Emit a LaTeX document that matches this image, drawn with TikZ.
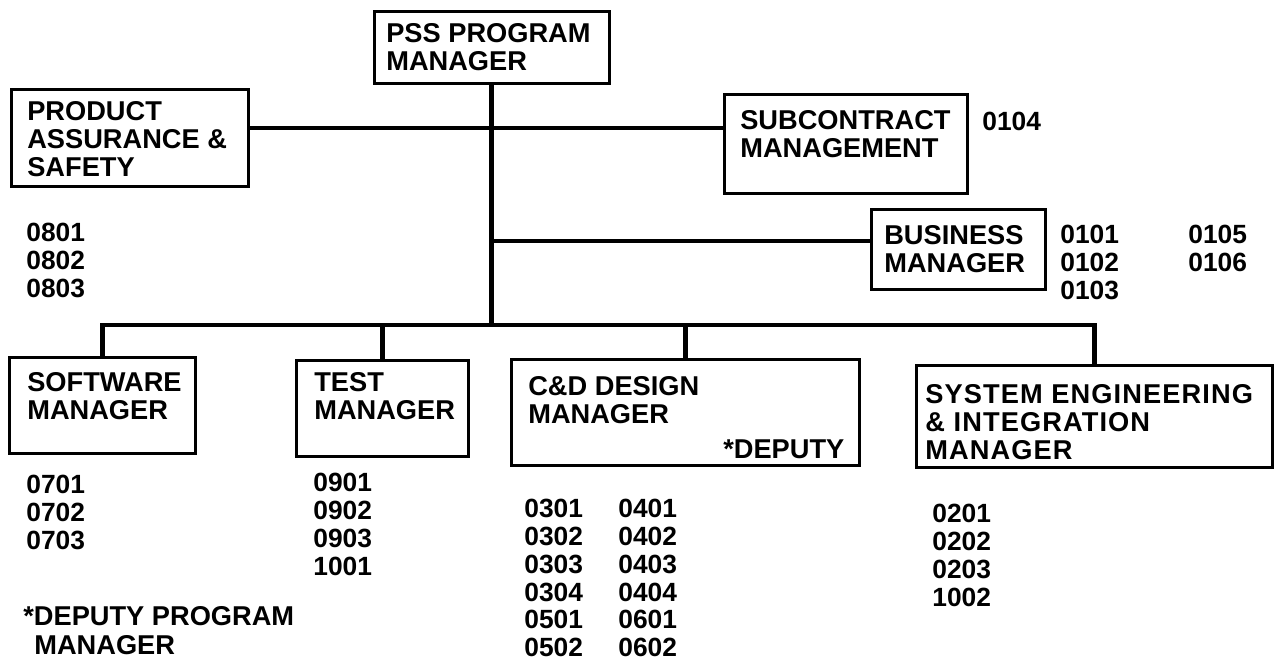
\documentclass[tikz,border=0pt]{standalone}
\usepackage{fontspec}
\setmainfont{Liberation Sans}
\usetikzlibrary{positioning}
\newlength\unitpx
\setlength\unitpx{0.02cm}
\newcommand\orgbox[5]{\parbox[c][#2\unitpx][t]{#1\unitpx}{\vspace*{#4\unitpx}\leftskip=#3\unitpx\rightskip=5\unitpx plus 1fil\relax #5}}

\begin{document}
\begin{tikzpicture}[x=0.02cm, y=-0.02cm, every node/.style={font=\fontsize{15.5}{16}\selectfont\bfseries}, mgr/.style={draw, line width=1.5pt, inner sep=0pt, anchor=north west}, codes/.style={inner sep=0pt, anchor=north west, align=left, font=\fontsize{15}{15.8}\selectfont\bfseries}, link/.style={line width=2.8pt}]
\useasboundingbox (0,0) rectangle (1274,663);
\node[mgr] (pss) at (373,10) {\orgbox{235}{72}{12}{12}{PSS PROGRAM\\MANAGER}};
\node[mgr] (pa) at (10,88) {\orgbox{237}{97}{16}{12}{PRODUCT\\ASSURANCE \&\\SAFETY}};
\node[mgr] (sub) at (723,93) {\orgbox{243}{99}{16}{16}{SUBCONTRACT\\MANAGEMENT}};
\node[mgr] (bm) at (870,208) {\orgbox{174}{80}{13}{16}{BUSINESS\\MANAGER}};
\node[mgr] (sw) at (8,356) {\orgbox{186}{96}{18}{15}{SOFTWARE\\MANAGER}};
\node[mgr] (tm) at (295,359) {\orgbox{172}{96}{18}{12}{TEST\\MANAGER}};
\node[mgr] (cd) at (510,358) {\orgbox{348}{106}{17}{17}{C\&D DESIGN\\MANAGER\\[7\unitpx]\hspace*{\fill}*DEPUTY\hspace*{10\unitpx}}};
\node[mgr] (se) at (915,364) {\orgbox{356}{102}{9}{19}{\addfontfeature{LetterSpace=4}SYSTEM ENGINEERING\\\& INTEGRATION\\MANAGER}};
\node[codes] (pacodes) at (26,223) {0801\\0802\\0803};
\node[codes] (subcode) at (982,112) {0104};
\node[codes] (bmcodes) at (1060,225) {0101\\0102\\0103};
\node[codes] (bmcodesb) at (1188,225) {0105\\0106};
\node[codes] (swcodes) at (26,475) {0701\\0702\\0703};
\node[codes] (tmcodes) at (313,473) {0901\\0902\\0903\\1001};
\node[codes] (cdcodes) at (524,499) {0301\\0302\\0303\\0304\\0501\\0502};
\node[codes] (cdcodesb) at (618,499) {0401\\0402\\0403\\0404\\0601\\0602};
\node[codes] (secodes) at (932,504) {0201\\0202\\0203\\1002};
\node[codes, font=\fontsize{15.5}{16.5}\selectfont\bfseries] (note) at (23,606) {*DEPUTY PROGRAM\\\hspace*{11\unitpx}MANAGER};
\coordinate (bus) at (0,325);
\coordinate (tie1) at (0,128);
\coordinate (tie2) at (0,241);
\draw[link] (pss.south) -- (pss.south |- bus);
\draw[link] (pa.east |- tie1) -- (sub.west |- tie1);
\draw[link] (pss.south |- tie2) -- (bm.west |- tie2);
\draw[link] (sw.north) -- (sw.north |- bus) -- (se.north |- bus) -- (se.north);
\draw[link] (tm.north) -- (tm.north |- bus);
\draw[link] (cd.north) -- (cd.north |- bus);
\end{tikzpicture}
\end{document}
